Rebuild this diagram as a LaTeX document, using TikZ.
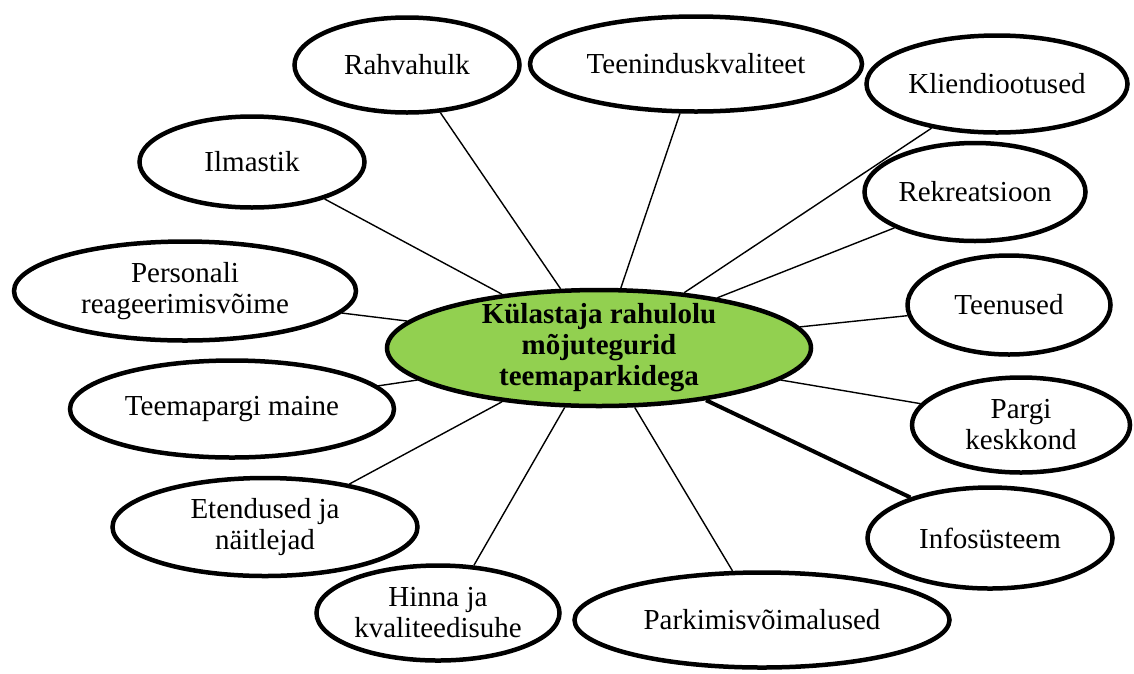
\documentclass[tikz,border=0pt]{standalone}
\usepackage{fontspec}
\setmainfont{Liberation Serif}
\usetikzlibrary{shapes.geometric}
\definecolor{leafgreen}{HTML}{92D050}
\tikzset{
  factor/.style={ellipse, draw, line width=4.5pt, fill=white, inner sep=0pt,
    align=center, font=\fontsize{29}{31}\selectfont},
  link/.style={line width=1.4pt},
}

\begin{document}
\begin{tikzpicture}[x=1pt,y=-1pt]
  \useasboundingbox (0,0) rectangle (1134,673);
  % centre
  \node[factor, fill=leafgreen, inner sep=-8pt, minimum width=424pt, minimum height=116pt,
    font=\fontsize{29}{31}\selectfont\bfseries] (main) at (599,348)
    {Külastaja rahulolu\\mõjutegurid\\teemaparkidega};
  % factors
  \node[factor, minimum width=225pt, minimum height=95pt] (rahva) at (407,65) {Rahvahulk};
  \node[factor, minimum width=332pt, minimum height=95pt] (teenindus) at (696,64) {Teeninduskvaliteet};
  \node[factor, minimum width=261pt, minimum height=97pt] (klient) at (997,84) {Kliendiootused};
  \node[factor, minimum width=225pt, minimum height=91pt] (ilm) at (252,162) {Ilmastik};
  \node[factor, minimum width=221pt, minimum height=98pt] (rekre) at (975,192) {Rekreatsioon};
  \node[factor, minimum width=342pt, minimum height=99pt] (pers) at (185,291) {Personali\\reageerimisvõime};
  \node[factor, minimum width=203pt, minimum height=99pt] (teenused) at (1009,305) {Teenused};
  \node[factor, minimum width=324pt, minimum height=97pt] (maine) at (232,409) {Teemapargi maine};
  \node[factor, minimum width=218pt, minimum height=95pt] (pargi) at (1021,425) {Pargi\\keskkond};
  \node[factor, minimum width=305pt, minimum height=98pt] (etend) at (265,527) {Etendused ja\\näitlejad};
  \node[factor, minimum width=245pt, minimum height=101pt] (info) at (990,538) {Infosüsteem};
  \node[factor, minimum width=243pt, minimum height=95pt] (hinna) at (438,613) {Hinna ja\\kvaliteedisuhe};
  \node[factor, minimum width=375pt, minimum height=95pt] (park) at (762,620) {Parkimisvõimalused};
  % connectors
  \foreach \f/\a/\b in {rahva/-55/123, teenindus/-108/70, klient/-146/33, rekre/-156/23,
      teenused/-174/6, pargi/168/-10, park/121/-59, hinna/53/-120, etend/27/-151,
      maine/9.5/-170.5, pers/-8/172, ilm/-27/151}
    \draw[link] (\f.\a) -- (main.\b);
  \draw[link, line width=4pt] (info.153) -- (main.-26);
\end{tikzpicture}
\end{document}
